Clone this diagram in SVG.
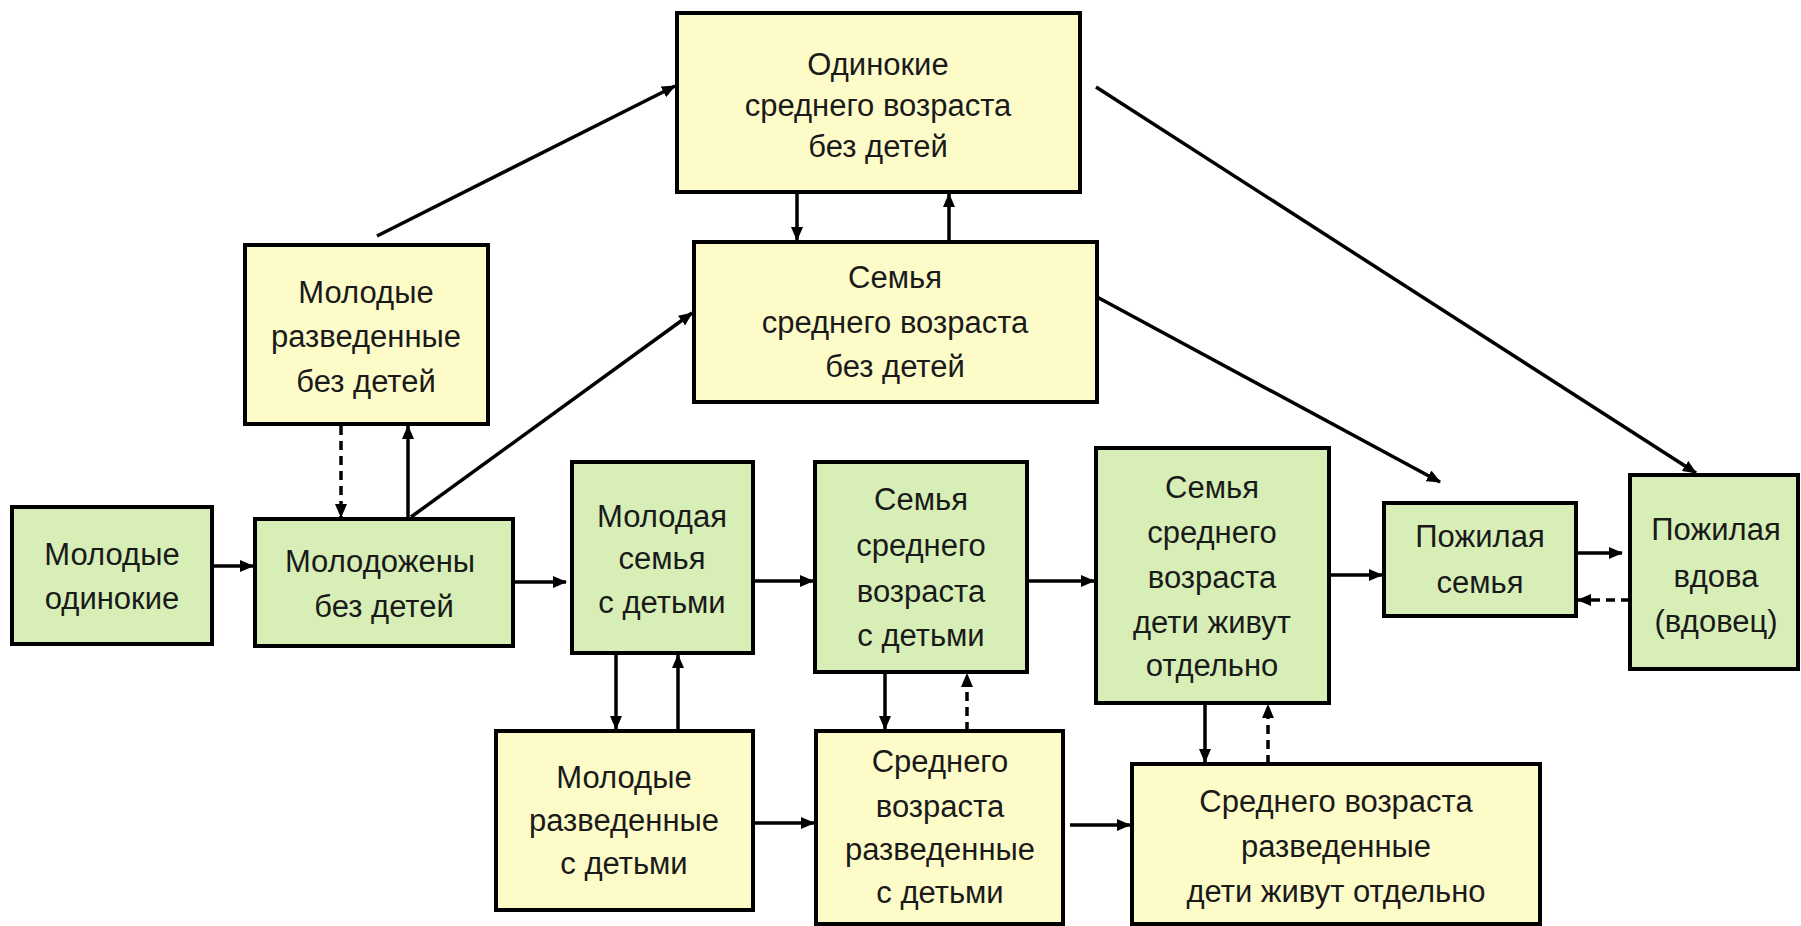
<svg xmlns="http://www.w3.org/2000/svg" width="1801" height="926" viewBox="0 0 1801 926">
<style>
.g{fill:#d7efb6;stroke:#000;stroke-width:4}
.y{fill:#fdfcc9;stroke:#000;stroke-width:4}
text{font-family:"Liberation Sans",Arial,sans-serif;font-size:31px;fill:#1a1a1a;text-anchor:middle}
.c{stroke:#000;stroke-width:3.5;fill:none;marker-end:url(#ah)}
.d{stroke-dasharray:9 6}
</style>
<defs>
<marker id="ah" markerUnits="userSpaceOnUse" markerWidth="14" markerHeight="12" refX="13" refY="6" orient="auto">
<path d="M0,0 L14,6 L0,12 z" fill="#000"/>
</marker>
</defs>
<rect width="1801" height="926" fill="#fff"/>
<g id="connectors">
<line class="c" x1="377" y1="236" x2="675" y2="86"/>
<line class="c" x1="411" y1="517" x2="692" y2="313"/>
<line class="c" x1="1096" y1="87" x2="1696" y2="473"/>
<line class="c" x1="1097" y1="297" x2="1440" y2="482"/>
<line class="c" x1="797" y1="192" x2="797" y2="240"/>
<line class="c" x1="949" y1="242" x2="949" y2="194"/>
<line class="c d" x1="341" y1="426" x2="341" y2="517"/>
<line class="c" x1="408" y1="519" x2="408" y2="426"/>
<line class="c" x1="212" y1="566" x2="253" y2="566"/>
<line class="c" x1="513" y1="582" x2="566" y2="582"/>
<line class="c" x1="753" y1="581" x2="813" y2="581"/>
<line class="c" x1="1027" y1="581" x2="1094" y2="581"/>
<line class="c" x1="1329" y1="575" x2="1382" y2="575"/>
<line class="c" x1="1568" y1="553" x2="1622" y2="553"/>
<line class="c d" x1="1630" y1="600" x2="1578" y2="600"/>
<line class="c" x1="616" y1="653" x2="616" y2="729"/>
<line class="c" x1="678" y1="731" x2="678" y2="655"/>
<line class="c" x1="885" y1="672" x2="885" y2="729"/>
<line class="c d" x1="967" y1="731" x2="967" y2="674"/>
<line class="c" x1="1205" y1="703" x2="1205" y2="762"/>
<line class="c d" x1="1268" y1="764" x2="1268" y2="705"/>
<line class="c" x1="753" y1="823" x2="814" y2="823"/>
<line class="c" x1="1070" y1="825" x2="1130" y2="825"/>
</g>
<g id="n-odinokie">
<rect class="y" x="677" y="13" width="403" height="179"/>
<text x="878" y="75">Одинокие</text>
<text x="878" y="116">среднего возраста</text>
<text x="878" y="157">без детей</text>
</g>
<g id="n-semya-bez-detey">
<rect class="y" x="694" y="242" width="403" height="160"/>
<text x="895" y="288">Семья</text>
<text x="895" y="333">среднего возраста</text>
<text x="895" y="377">без детей</text>
</g>
<g id="n-mol-razv-bez">
<rect class="y" x="245" y="245" width="243" height="179"/>
<text x="366" y="303">Молодые</text>
<text x="366" y="347">разведенные</text>
<text x="366" y="392">без детей</text>
</g>
<g id="n-mol-odinokie">
<rect class="g" x="12" y="507" width="200" height="137"/>
<text x="112" y="565">Молодые</text>
<text x="112" y="609">одинокие</text>
</g>
<g id="n-molodozheny">
<rect class="g" x="255" y="519" width="258" height="127"/>
<text x="380" y="572">Молодожены</text>
<text x="384" y="617">без детей</text>
</g>
<g id="n-molodaya-semya">
<rect class="g" x="572" y="462" width="181" height="191"/>
<text x="662" y="527">Молодая</text>
<text x="662" y="569">семья</text>
<text x="662" y="613">с детьми</text>
</g>
<g id="n-semya-s-detmi">
<rect class="g" x="815" y="462" width="212" height="210"/>
<text x="921" y="510">Семья</text>
<text x="921" y="556">среднего</text>
<text x="921" y="602">возраста</text>
<text x="921" y="646">с детьми</text>
</g>
<g id="n-semya-det-otd">
<rect class="g" x="1096" y="448" width="233" height="255"/>
<text x="1212" y="498">Семья</text>
<text x="1212" y="543">среднего</text>
<text x="1212" y="588">возраста</text>
<text x="1212" y="633">дети живут</text>
<text x="1212" y="676">отдельно</text>
</g>
<g id="n-pozh-semya">
<rect class="g" x="1384" y="503" width="192" height="113"/>
<text x="1480" y="547">Пожилая</text>
<text x="1480" y="593">семья</text>
</g>
<g id="n-vdova">
<rect class="g" x="1630" y="475" width="168" height="194"/>
<text x="1716" y="540">Пожилая</text>
<text x="1716" y="587">вдова</text>
<text x="1716" y="632">(вдовец)</text>
</g>
<g id="n-mol-razv-s">
<rect class="y" x="496" y="731" width="257" height="179"/>
<text x="624" y="788">Молодые</text>
<text x="624" y="831">разведенные</text>
<text x="624" y="874">с детьми</text>
</g>
<g id="n-sred-razv-s">
<rect class="y" x="816" y="731" width="247" height="193"/>
<text x="940" y="772">Среднего</text>
<text x="940" y="817">возраста</text>
<text x="940" y="860">разведенные</text>
<text x="940" y="903">с детьми</text>
</g>
<g id="n-sred-razv-otd">
<rect class="y" x="1132" y="764" width="408" height="160"/>
<text x="1336" y="812">Среднего возраста</text>
<text x="1336" y="857">разведенные</text>
<text x="1336" y="902">дети живут отдельно</text>
</g>
</svg>
